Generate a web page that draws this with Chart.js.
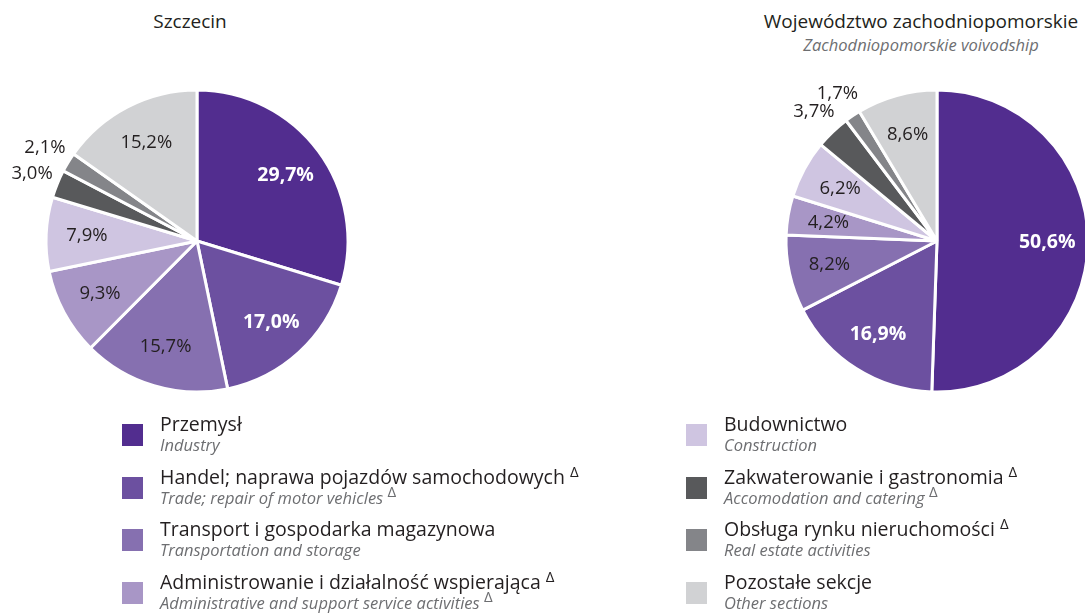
<!DOCTYPE html>
<html>
<head>
<meta charset="utf-8">
<script src="https://cdn.jsdelivr.net/npm/chart.js@4.4.1/dist/chart.umd.min.js"></script>
<style>
  html, body {
    margin: 0;
    padding: 0;
    width: 1085px;
    height: 613px;
    overflow: hidden;
    background: #ffffff;
    font-family: "Open Sans", "Noto Sans", sans-serif;
    color: #231f20;
  }
  .title {
    position: absolute;
    top: 8px;
    font-size: 19px;
    line-height: 26px;
    text-align: center;
    white-space: nowrap;
  }
  .subtitle {
    font-size: 16.5px;
    line-height: 22px;
    font-style: italic;
    color: #6d6e71;
  }
  .chartBox {
    position: absolute;
    top: 60px;
    height: 362px;
  }
  .legend {
    position: absolute;
    top: 412px;
  }
  .legendItem {
    position: relative;
    height: 52.7px;
    padding-left: 38px;
    white-space: nowrap;
  }
  .legendItem .box {
    position: absolute;
    left: 0;
    top: 12px;
    width: 21px;
    height: 22px;
  }
  .legendItem .pl {
    font-size: 19.5px;
    line-height: 23px;
  }
  .legendItem .en {
    font-size: 16.5px;
    font-style: italic;
    color: #6d6e71;
    line-height: 19px;
  }
  sup {
    font-size: 15px;
    line-height: 0;
    position: relative;
    top: -7px;
    vertical-align: baseline;
    font-style: normal;
    color: #231f20;
  }
  .en sup {
    color: #6d6e71;
  }
</style>
</head>
<body>
  <div class="title" style="left: 90px; width: 200px;">Szczecin</div>
  <div class="title" style="left: 721px; width: 400px;">
    Województwo zachodniopomorskie
    <div class="subtitle">Zachodniopomorskie voivodship</div>
  </div>

  <div class="chartBox" style="left: 0px; width: 394px;">
    <canvas id="chartCity"></canvas>
  </div>
  <div class="chartBox" style="left: 737px; width: 400px;">
    <canvas id="chartRegion"></canvas>
  </div>

  <div class="legend" id="legendLeft" style="left: 122px;"></div>
  <div class="legend" id="legendRight" style="left: 686px;"></div>

<script>
const categories = [
  "Przemysł",
  "Handel; naprawa pojazdów samochodowych",
  "Transport i gospodarka magazynowa",
  "Administrowanie i działalność wspierająca",
  "Budownictwo",
  "Zakwaterowanie i gastronomia",
  "Obsługa rynku nieruchomości",
  "Pozostałe sekcje",
];
const categoriesEn = [
  "Industry",
  "Trade; repair of motor vehicles",
  "Transportation and storage",
  "Administrative and support service activities",
  "Construction",
  "Accomodation and catering",
  "Real estate activities",
  "Other sections",
];
const deltaMark = [false, true, false, true, false, true, true, false];
const deltaMarkEn = [false, true, false, true, false, true, false, false];
const szczecinValues = [29.7, 17.0, 15.7, 9.3, 7.9, 3.0, 2.1, 15.2];
const regionValues = [50.6, 16.9, 8.2, 4.2, 6.2, 3.7, 1.7, 8.6];

const sliceColors = [
  "#522d8f",
  "#6c50a0",
  "#8670b0",
  "#a896c6",
  "#cfc5e1",
  "#58595b",
  "#848589",
  "#d1d2d4",
];

function formatPercent(value) {
  return value.toFixed(1).replace(".", ",") + "%";
}

const sliceLabels = {
  id: "sliceLabels",
  afterDatasetsDraw(chart) {
    const ctx = chart.ctx;
    const meta = chart.getDatasetMeta(0);
    const values = chart.data.datasets[0].data;
    ctx.save();
    ctx.textAlign = "center";
    ctx.textBaseline = "middle";
    meta.data.forEach(function (arc, i) {
      const p = arc.getProps(["x", "y", "startAngle", "endAngle", "outerRadius"], true);
      const mid = (p.startAngle + p.endAngle) / 2;
      const outside = values[i] < 4;
      const factor = outside ? 1.18 : 0.73;
      const r = p.outerRadius * factor;
      const tx = p.x + Math.cos(mid) * r;
      const ty = p.y + Math.sin(mid) * r;
      if (i < 2) {
        ctx.font = 'bold 19.5px "Open Sans", "Noto Sans", sans-serif';
        ctx.fillStyle = "#ffffff";
      } else {
        ctx.font = '18.5px "Open Sans", "Noto Sans", sans-serif';
        ctx.fillStyle = "#231f20";
      }
      ctx.fillText(formatPercent(values[i]), tx, ty);
    });
    ctx.restore();
  },
};

function drawPie(id, values) {
  const ctx = document.getElementById(id);
  new Chart(ctx, {
    type: "pie",
    data: {
      labels: categories,
      datasets: [
        {
          data: values,
          backgroundColor: sliceColors,
          borderColor: "#ffffff",
          borderWidth: 3,
        },
      ],
    },
    options: {
      responsive: true,
      maintainAspectRatio: false,
      animation: false,
      radius: 151,
      layout: { padding: 0 },
      plugins: {
        legend: { display: false },
        tooltip: { enabled: false },
      },
    },
    plugins: [sliceLabels],
  });
}

function legendItemHtml(i) {
  let sup = deltaMark[i] ? " <sup>Δ</sup>" : "";
  let supEn = deltaMarkEn[i] ? " <sup>Δ</sup>" : "";
  return `<div class="legendItem">
      <div class="box" style="background:${sliceColors[i]}"></div>
      <div class="pl">${categories[i]}${sup}</div>
      <div class="en">${categoriesEn[i]}${supEn}</div>
    </div>`;
}

function renderLegend() {
  let left = document.getElementById("legendLeft");
  let right = document.getElementById("legendRight");
  for (let i = 0; i < 4; i++) {
    left.innerHTML += legendItemHtml(i);
  }
  for (let i = 4; i < 8; i++) {
    right.innerHTML += legendItemHtml(i);
  }
}

renderLegend();
drawPie("chartCity", szczecinValues);
drawPie("chartRegion", regionValues);
</script>
</body>
</html>
